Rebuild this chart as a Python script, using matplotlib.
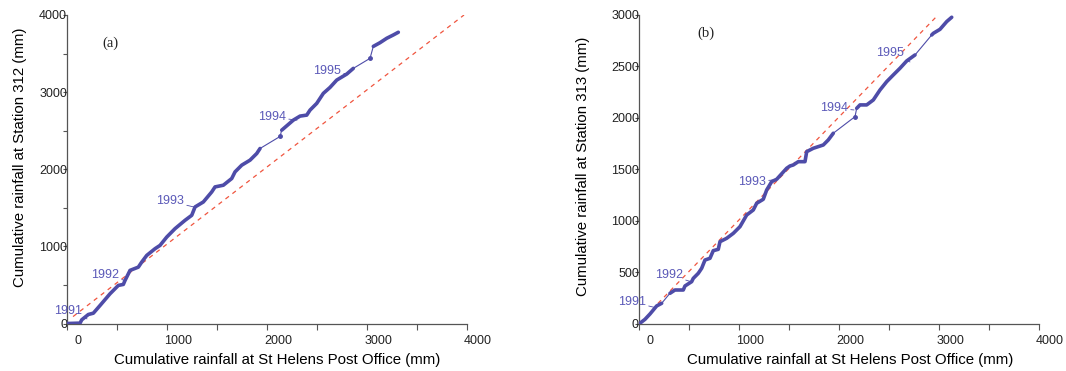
import matplotlib
matplotlib.use("Agg")
import matplotlib.pyplot as plt
import matplotlib.transforms as mtransforms
import numpy as np

plt.rcParams['font.family'] = ['Liberation Sans', 'DejaVu Sans']

# (a) St Helens PO vs Station 312, cumulative rainfall in mm
xa = [0, 130, 147, 213, 263, 330, 430, 513, 563, 580, 630, 713, 747, 797, 880,
      930, 997, 1080, 1180, 1247, 1280, 1363, 1447, 1480, 1563, 1647, 1680,
      1747, 1830, 1897, 1930, 2130, 2147, 2263, 2330, 2397, 2430, 2497, 2563,
      2630, 2697, 2797, 2863, 3030, 3063, 3130, 3197, 3263, 3313]
ya = [0, 5, 48, 117, 134, 234, 386, 494, 507, 559, 689, 731, 797, 883, 970,
      1013, 1121, 1230, 1338, 1403, 1511, 1576, 1706, 1771, 1793, 1880, 1966,
      2053, 2118, 2204, 2269, 2425, 2507, 2637, 2689, 2702, 2767, 2854, 2984,
      3061, 3156, 3234, 3308, 3438, 3593, 3641, 3698, 3741, 3776]
gaps_a = [31, 32, 43, 44]

# (b) St Helens PO vs Station 313
xb = [0, 60, 110, 177, 227, 310, 360, 443, 460, 527, 543, 593, 627, 660, 710,
      743, 793, 810, 877, 943, 1010, 1077, 1143, 1177, 1243, 1277, 1327, 1377,
      1477, 1510, 1543, 1593, 1660, 1677, 1743, 1843, 1893, 1943, 2160, 2177,
      2210, 2277, 2343, 2410, 2477, 2543, 2610, 2677, 2760, 2927, 2943, 3010,
      3077, 3127]
yb = [0, 45, 97, 175, 201, 298, 330, 330, 369, 411, 443, 492, 541, 621, 638,
      712, 725, 799, 832, 880, 945, 1058, 1107, 1172, 1211, 1301, 1382, 1405,
      1512, 1534, 1544, 1576, 1576, 1673, 1706, 1738, 1787, 1852, 2013, 2094,
      2127, 2127, 2175, 2272, 2353, 2418, 2483, 2554, 2612, 2806, 2822, 2861,
      2936, 2978]
gaps_b = [5, 38, 39, 49]

# 1:1 reference lines
ref_a = ([60, 3970], [90, 4000])
ref_b = ([190, 2990], [200, 3000])

years = ['1991', '1992', '1993', '1994', '1995']
# label position (right edge) and the curve point each one marks
year_text_a = [(150, 156), (520, 623), (1170, 1585), (2190, 2676), (2740, 3273)]
year_pt_a = [(200, 60), (580, 559), (1280, 1507), (2300, 2637), (2810, 3234)]
year_text_b = [(70, 214), (440, 476), (1270, 1379), (2090, 2097), (2650, 2631)]
year_pt_b = [(160, 160), (530, 408), (1340, 1398), (2150, 2078), (2710, 2544)]

blue = '#4e4ca8'
red = '#f0553f'
label_blue = '#5b59b8'

fig = plt.figure(figsize=(10.66, 3.71), dpi=100)
ax1 = fig.add_axes([0.0629, 0.128, 0.3752, 0.8316])
ax2 = fig.add_axes([0.5994, 0.1267, 0.3753, 0.8329])


def draw_curve(ax, x, y, gaps):
    x = np.asarray(x)
    y = np.asarray(y)
    ax.plot(x, y, color=blue, lw=0.8, zorder=3)
    for xs, ys in zip(np.split(x, gaps), np.split(y, gaps)):
        if len(xs) > 1:
            ax.plot(xs, ys, color=blue, lw=2.6, solid_capstyle='round',
                    solid_joinstyle='round', zorder=3)
        else:
            ax.plot(xs, ys, 'o', color=blue, ms=2.5, zorder=3)


def style_axes(ax, ymax, ystep, ylabel, tag, tag_pos):
    ax.set_xlim(0, 4000)
    ax.set_ylim(0, ymax)
    for s in ['top', 'right']:
        ax.spines[s].set_visible(False)
    for s in ['left', 'bottom']:
        ax.spines[s].set_color('#555555')
        ax.spines[s].set_linewidth(0.9)
    ax.set_xticks(np.arange(0, 4001, 1000))
    ax.set_xticks(np.arange(500, 4001, 1000), minor=True)
    ax.set_yticks(np.arange(0, ymax + 1, ystep))
    ax.set_yticks(np.arange(500, ymax + 1, 1000), minor=True)
    ax.tick_params(axis='both', which='both', direction='out', color='#555555',
                   labelsize=9, labelcolor='#222222', width=0.8)
    ax.tick_params(axis='x', which='both', length=4, pad=4)
    ax.tick_params(axis='y', which='both', length=3, pad=-3)
    # x tick labels sit a little to the right of their ticks
    shift = mtransforms.ScaledTranslation(11 / 100, 0, fig.dpi_scale_trans)
    for lab in ax.get_xticklabels():
        lab.set_transform(lab.get_transform() + shift)
    ax.set_xlabel('Cumulative rainfall at St Helens Post Office (mm)', fontsize=10.8)
    ax.set_ylabel(ylabel, fontsize=10.8)
    ax.xaxis.label.set_va('center')
    ax.yaxis.label.set_va('center')
    ax.text(*tag_pos, tag, transform=ax.transAxes, family='Liberation Serif',
            fontsize=10.5, ha='center', va='center', color='#222222')


def year_labels(ax, txt, pts):
    for name, (tx, ty), (px, py) in zip(years, txt, pts):
        ax.annotate(name, xy=(px, py), xytext=(tx, ty), ha='right', va='center',
                    fontsize=9, color=label_blue,
                    arrowprops=dict(arrowstyle='-', color=blue, lw=0.6,
                                    shrinkA=0, shrinkB=0))


draw_curve(ax1, xa, ya, gaps_a)
ax1.plot(*ref_a, color=red, lw=0.9, dashes=(3.5, 3.5), zorder=2)
year_labels(ax1, year_text_a, year_pt_a)
style_axes(ax1, 4000, 1000, 'Cumulative rainfall at Station 312 (mm)', '(a)',
           (0.1075, 0.909))
ax1.xaxis.set_label_coords(0.525, -0.118)
ax1.yaxis.set_label_coords(-0.117, 0.54)

draw_curve(ax2, xb, yb, gaps_b)
ax2.plot(*ref_b, color=red, lw=0.9, dashes=(3.5, 3.5), zorder=2)
year_labels(ax2, year_text_b, year_pt_b)
style_axes(ax2, 3000, 500, 'Cumulative rainfall at Station 313 (mm)', '(b)',
           (0.1675, 0.942))
ax2.xaxis.set_label_coords(0.527, -0.117)
ax2.yaxis.set_label_coords(-0.14, 0.511)

fig.savefig('out.png', dpi=100)
